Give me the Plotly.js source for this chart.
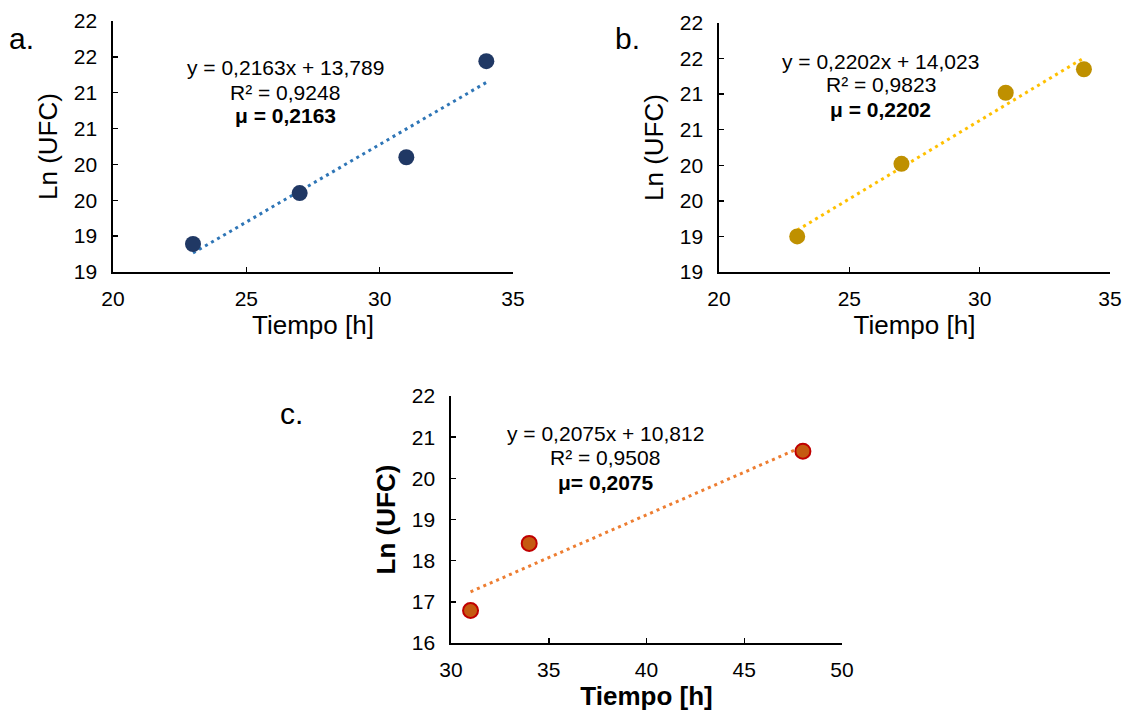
<!DOCTYPE html>
<html>
<head>
<meta charset="utf-8">
<script src="https://cdn.plot.ly/plotly-3.0.1.min.js"></script>
<style>
html,body{margin:0;padding:0;background:#fff;}
#chart{width:1124px;height:715px;}
</style>
</head>
<body>
<div id="chart"></div>
<script>
// ---- data ----
const timeA = [23, 27, 31, 34];
const lnA   = [18.89, 19.60, 20.10, 21.44];
const timeB = [23, 27, 31, 34];
const lnB   = [19.00, 20.02, 21.02, 21.35];
const timeC = [31, 34, 48];
const lnC   = [16.79, 18.42, 20.66];

// trendline equations as printed on the chart (a, b, c)
const trendSlope     = [0.2163, 0.2202, 0.2075];
const trendIntercept = [13.789, 14.023, 10.812];

const eqText = ["y = 0,2163x + 13,789", "y = 0,2202x + 14,023", "y = 0,2075x + 10,812"];
const r2Text = ["R² = 0,9248", "R² = 0,9823", "R² = 0,9508"];
const muText = ["μ = 0,2163", "μ = 0,2202", "μ= 0,2075"];
const panelLabels = ["a.", "b.", "c."];

const yTickValsAB = [18.5, 19, 19.5, 20, 20.5, 21, 21.5, 22];
const yTickTextAB = ["19", "19", "20", "20", "21", "21", "22", "22"];
const xTitle = "Tiempo [h]";
const yTitle = "Ln (UFC)";

// ---- helpers ----
const W = 1124, H = 715;
const px = x => x / W;
const py = y => 1 - y / H;
const FONT = "Liberation Sans, Arial, sans-serif";

function trend(xs, i) {
  const x0 = Math.min(...xs), x1 = Math.max(...xs);
  return {x: [x0, x1], y: [trendSlope[i]*x0 + trendIntercept[i], trendSlope[i]*x1 + trendIntercept[i]]};
}

const tA = trend(timeA, 0), tB = trend(timeB, 1), tC = trend(timeC, 2);

const traces = [
  {x: tA.x, y: tA.y, xaxis: 'x', yaxis: 'y', mode: 'lines', line: {color: '#2E75B6', width: 3, dash: '3px,4px'}, hoverinfo: 'skip'},
  {x: timeA, y: lnA, xaxis: 'x', yaxis: 'y', mode: 'markers', marker: {color: '#203864', size: 16}},
  {x: tB.x, y: tB.y, xaxis: 'x2', yaxis: 'y2', mode: 'lines', line: {color: '#FFC000', width: 3, dash: '3px,4px'}, hoverinfo: 'skip'},
  {x: timeB, y: lnB, xaxis: 'x2', yaxis: 'y2', mode: 'markers', marker: {color: '#BF9000', size: 16}},
  {x: tC.x, y: tC.y, xaxis: 'x3', yaxis: 'y3', mode: 'lines', line: {color: '#ED7D31', width: 3, dash: '3px,4px'}, hoverinfo: 'skip'},
  {x: timeC, y: lnC, xaxis: 'x3', yaxis: 'y3', mode: 'markers', marker: {color: '#C55A11', size: 15, line: {color: '#C00000', width: 2}}}
];

function xAx(domain, range, anchor, bold) {
  return {
    domain: domain, range: range, anchor: anchor, dtick: 5, tick0: range[0],
    showline: true, linecolor: '#000', linewidth: 1.6, mirror: false,
    ticks: 'inside', ticklen: 5, tickwidth: 1.5, tickcolor: '#000',
    showgrid: false, zeroline: false, ticklabelstandoff: 7,
    tickfont: {family: FONT, size: 21, color: '#000'},
    title: {text: bold ? '<b>' + xTitle + '</b>' : xTitle, font: {family: FONT, size: 26, color: '#000'}, standoff: 7}
  };
}
function yAx(domain, range, anchor, bold, tickvals, ticktext) {
  const a = {
    domain: domain, range: range, anchor: anchor,
    showline: true, linecolor: '#000', linewidth: 1.6, mirror: false,
    ticks: 'inside', ticklen: 5, tickwidth: 1.5, tickcolor: '#000',
    showgrid: false, zeroline: false, ticklabelstandoff: 10,
    tickfont: {family: FONT, size: 21, color: '#000'},
    title: {text: bold ? '<b>' + yTitle + '</b>' : yTitle, font: {family: FONT, size: 26, color: '#000'}, standoff: 9}
  };
  if (tickvals) { a.tickmode = 'array'; a.tickvals = tickvals; a.ticktext = ticktext; }
  else { a.dtick = 1; a.tick0 = range[0]; }
  return a;
}

const annos = [];
function textBlock(i, cx, ys) {
  annos.push({xref: 'paper', yref: 'paper', x: px(cx), y: py(ys[0]), xanchor: 'center', yanchor: 'middle', showarrow: false, text: eqText[i], font: {family: FONT, size: 21, color: '#000'}});
  annos.push({xref: 'paper', yref: 'paper', x: px(cx), y: py(ys[1]), xanchor: 'center', yanchor: 'middle', showarrow: false, text: r2Text[i], font: {family: FONT, size: 21, color: '#000'}});
  annos.push({xref: 'paper', yref: 'paper', x: px(cx), y: py(ys[2]), xanchor: 'center', yanchor: 'middle', showarrow: false, text: '<b>' + muText[i] + '</b>', font: {family: FONT, size: 21, color: '#000'}});
}
textBlock(0, 285, [68, 92, 116]);
textBlock(1, 881, [61, 85, 109]);
textBlock(2, 605, [433, 457, 482]);

const labelPos = [[7, 38], [613, 38], [278, 413]];
panelLabels.forEach((t, i) => {
  annos.push({xref: 'paper', yref: 'paper', x: px(labelPos[i][0]), y: py(labelPos[i][1]), xanchor: 'left', yanchor: 'middle', showarrow: false, text: t, font: {family: FONT, size: 30, color: '#000'}});
});

const layout = {
  width: W, height: H,
  margin: {l: 0, r: 0, t: 0, b: 0},
  paper_bgcolor: '#fff', plot_bgcolor: '#fff',
  showlegend: false,
  font: {family: FONT, color: '#000'},
  xaxis:  xAx([px(113), px(513)], [20, 35], 'y', false),
  yaxis:  yAx([py(272), py(21)], [18.5, 22], 'x', false, yTickValsAB, yTickTextAB),
  xaxis2: xAx([px(719), px(1110)], [20, 35], 'y2', false),
  yaxis2: yAx([py(272), py(23)], [18.5, 22], 'x2', false, yTickValsAB, yTickTextAB),
  xaxis3: xAx([px(451), px(842)], [30, 50], 'y3', true),
  yaxis3: yAx([py(643), py(396)], [16, 22], 'x3', true, null, null),
  annotations: annos
};

Plotly.newPlot('chart', traces, layout, {displayModeBar: false, staticPlot: true});
</script>
</body>
</html>
